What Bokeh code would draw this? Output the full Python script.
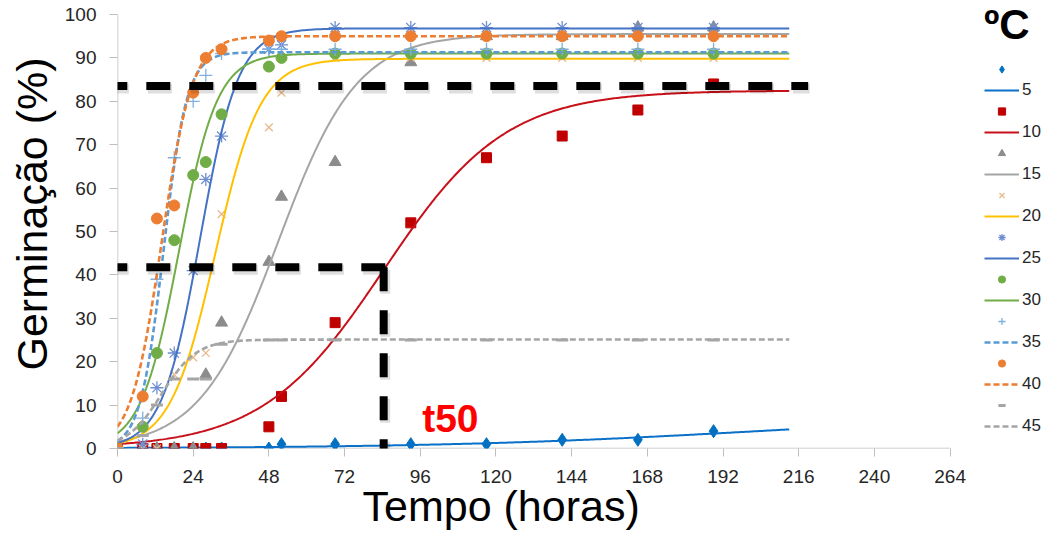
import numpy as np
from bokeh.plotting import figure
from bokeh.models import Range1d, Legend, LegendItem, Label, Arrow, FixedTicker, Title
from bokeh.core.properties import value
from bokeh.embed import file_html
from bokeh.resources import INLINE

# ---------------- data ----------------
hours = [0, 8, 12.5, 18, 24, 28, 33, 48, 52, 69, 93, 117, 141, 165, 189]
temps = ["5", "10", "15", "20", "25", "30", "35", "40", "45"]

g05 = [0, 0, 0, 0, 0, 0, 0, 0, 1, 1, 1, 1, 2, 2, 4]
g10 = [0, 0, 0, 0, 0, 0, 0, 5, 12, 29, 52, 67, 72, 78, 84]
g15 = [0, 0, 0, 0, 0, 17, 29, 43, 58, 66, 89, 95, 95, 97, 97]
g20 = [0, 0, 0, 17, 21, 22, 54, 74, 82, 90, 90, 90, 90, 90, 90]
g25 = [0, 1, 14, 22, 41, 62, 72, 92, 93, 97, 97, 97, 97, 97, 97]
g30 = [0, 5, 22, 48, 63, 66, 77, 88, 90, 91, 91, 91, 91, 91, 91]
g35 = [0, 7, 39, 67, 80, 86, 91, 92, 92, 92, 92, 92, 92, 92, 92]
g40 = [0, 12, 53, 56, 82, 90, 92, 94, 95, 95, 95, 95, 95, 95, 95]
g45 = [0, 3, 10, 16, 16, 16, 24, 25, 25, 25, 25, 25, 25, 25, 25]
germ = [g05, g10, g15, g20, g25, g30, g35, g40, g45]

# fitted (logistic) curves: plateau, t50, rate
fit_max = [8, 82.5, 95.5, 89.8, 96.8, 91, 91.3, 95, 25.1]
fit_t50 = [203, 84.5, 51, 31, 26.2, 19.5, 14.6, 14, 14]
fit_k = [0.02, 0.052, 0.08, 0.14, 0.165, 0.165, 0.27, 0.206, 0.18]
fit_end = 213

# t50 guide for 10 ºC
g_max_10 = 83.5
t50_10 = 84.4
guide_left = -4.5
guide_right = 219

x_max, y_max = 264, 100
x_ticks = list(range(0, x_max + 1, 24))
y_ticks = list(range(0, y_max + 1, 10))

# ---------------- styles ----------------
marker_kind = ["diamond", "square", "triangle", "x", "asterisk", "circle", "cross", "circle", "dash"]
marker_col = ["#0070C0", "#C00000", "#8C8C8C", "#E9B98A", "#6F8FD0", "#70AD47", "#7FB0E0", "#ED7D31", "#A5A5A5"]
marker_size = [13, 10, 12, 11, 13, 11, 13, 11, 12]
line_col = ["#0A70C8", "#C8101A", "#A5A5A5", "#FFC000", "#4472C4", "#70AD47", "#5B9BD5", "#ED7D31", "#A5A5A5"]
line_dash = ["solid"] * 6 + ["6 3", "6 3", "6 3"]

FONT = "Liberation Sans"
AXIS_GREY = "#BFBFBF"

# frame spans the legend area too; the drawn axes stop at 264 h / 100 %
p = figure(width=1048, height=534, output_backend="svg", toolbar_location=None,
           x_range=Range1d(0, 295.2), y_range=Range1d(0, 103.23),
           min_border_left=117, min_border_right=0, min_border_top=0, min_border_bottom=86)
p.outline_line_color = None
p.xgrid.visible = False
p.ygrid.visible = False

# axis lines (only over the data extent)
p.segment(x0=[0, 0], y0=[0, 0], x1=[x_max, 0], y1=[0, y_max], line_color=AXIS_GREY, line_width=1.5)

t_fit = np.linspace(0, fit_end, 400)
items = []
for i, tname in enumerate(temps):
    kw = dict(size=marker_size[i], line_color=marker_col[i], fill_color=marker_col[i])
    if marker_kind[i] in ("x", "asterisk", "cross"):
        kw["line_width"] = 1.3
    if marker_kind[i] == "dash":
        kw["line_width"] = 3
    sr = p.scatter(hours, germ[i], marker=marker_kind[i], **kw)
    yfit = fit_max[i] / (1 + np.exp(-fit_k[i] * (t_fit - fit_t50[i])))
    lw = 2.6 if line_dash[i] != "solid" else 2
    lr = p.line(t_fit, yfit, line_color=line_col[i], line_width=lw, line_dash=line_dash[i])
    items.append(LegendItem(label=value(""), renderers=[sr]))
    items.append(LegendItem(label=value(tname), renderers=[lr]))

# black dashed guides (with a soft shadow)
def guide(x0, y0, x1, y1):
    sh = 0.55  # shadow drop, in % units (~2.4 px)
    p.add_layout(Arrow(end=None, x_start=x0 + 0.5, y_start=y0 - sh, x_end=x1 + 0.5, y_end=y1 - sh,
                       line_color="black", line_alpha=0.13, line_width=10, line_dash="24 19"))
    p.add_layout(Arrow(end=None, x_start=x0, y_start=y0, x_end=x1, y_end=y1,
                       line_color="black", line_width=8, line_dash="24 19"))

guide(guide_left, g_max_10, guide_right, g_max_10)
guide(guide_left, g_max_10 / 2, t50_10 + 1.2, g_max_10 / 2)
guide(t50_10, g_max_10 / 2, t50_10, -0.6)

p.add_layout(Label(x=96.6, y=6.9, text="t50", text_color="#FF0000", text_font=FONT,
                   text_font_size="39px", text_font_style="bold", text_baseline="alphabetic"))

# axes
for ax in (p.xaxis[0], p.yaxis[0]):
    ax.axis_line_color = None
    ax.major_tick_line_color = AXIS_GREY
    ax.minor_tick_line_color = None
    ax.major_tick_in = 0
    ax.major_tick_out = 8
    ax.major_label_text_font = FONT
    ax.major_label_text_font_size = "19px"
    ax.major_label_text_color = "#262626"
p.xaxis.ticker = FixedTicker(ticks=x_ticks)
p.yaxis.ticker = FixedTicker(ticks=y_ticks)
p.xaxis.major_label_standoff = 13
p.yaxis.major_label_standoff = 13

p.add_layout(Title(text="Germinação (%)", align="left", offset=78, standoff=11,
                   text_font=FONT, text_font_size="43px", text_font_style="normal",
                   text_color="black"), "left")
p.add_layout(Title(text="Tempo (horas)", align="left", offset=245, standoff=-12,
                   text_font=FONT, text_font_size="43px", text_font_style="normal",
                   text_color="black"), "below")

legend = Legend(items=items, location=(867, 12), title="ºC",
                title_text_font=FONT, title_text_font_size="42px", title_text_font_style="bold",
                title_text_color="black", title_standoff=11,
                label_text_font=FONT, label_text_font_size="17px", label_text_color="#262626",
                glyph_width=35, glyph_height=18, label_height=18, spacing=2, label_standoff=3,
                padding=0, margin=0, border_line_color=None, background_fill_alpha=0)
p.add_layout(legend)

open("out.html", "w").write(file_html(p, INLINE))
